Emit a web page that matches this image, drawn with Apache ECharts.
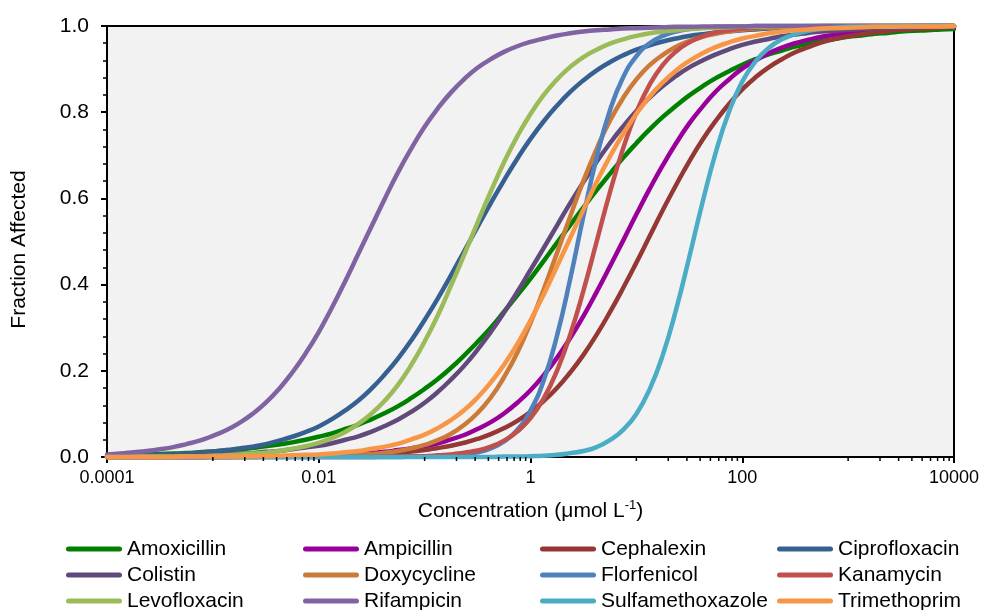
<!DOCTYPE html>
<html>
<head>
<meta charset="utf-8">
<script src="https://cdn.jsdelivr.net/npm/echarts@6/dist/echarts.min.js"></script>
<style>
  html, body { margin: 0; padding: 0; background: #fff; }
  #chart { width: 982px; height: 610px; }
</style>
</head>
<body>
<div id="chart"></div>
<script>
// Concentrations (µmol/L), eighth-decade steps from 1e-4 to 1e4
const concentrations = [
  0.0001, 0.0001334, 0.0001778, 0.0002371, 0.0003162, 0.0004217, 0.0005623, 0.0007499,
  0.001, 0.001334, 0.001778, 0.002371, 0.003162, 0.004217, 0.005623, 0.007499,
  0.01, 0.01334, 0.01778, 0.02371, 0.03162, 0.04217, 0.05623, 0.07499,
  0.1, 0.1334, 0.1778, 0.2371, 0.3162, 0.4217, 0.5623, 0.7499,
  1, 1.334, 1.778, 2.371, 3.162, 4.217, 5.623, 7.499,
  10, 13.34, 17.78, 23.71, 31.62, 42.17, 56.23, 74.99,
  100, 133.4, 177.8, 237.1, 316.2, 421.7, 562.3, 749.9,
  1000, 1334, 1778, 2371, 3162, 4217, 5623, 7499,
  10000
];

// Fraction affected for each antibiotic at the concentrations above
const amoxicillin = [
  0.003,0.004,0.005,0.006,0.007,0.008,0.009,0.011, 0.013,0.015,0.018,0.021,0.025,0.029,0.034,0.040,
  0.047,0.055,0.065,0.075,0.088,0.102,0.118,0.137, 0.158,0.181,0.207,0.236,0.267,0.300,0.337,0.375,
  0.414,0.455,0.497,0.538,0.579,0.619,0.657,0.694, 0.728,0.760,0.789,0.815,0.839,0.860,0.879,0.895,
  0.910,0.923,0.934,0.943,0.952,0.959,0.965,0.970, 0.975,0.978,0.982,0.984,0.987,0.989,0.990,0.992,
  0.993];
const ampicillin = [
  0,0,0,0,0,0,0,0, 0.001,0.001,0.001,0.001,0.001,0.002,0.002,0.003,
  0.004,0.005,0.006,0.008,0.010,0.012,0.016,0.020, 0.025,0.032,0.041,0.051,0.065,0.081,0.101,0.126,
  0.155,0.190,0.230,0.276,0.327,0.383,0.442,0.502, 0.563,0.622,0.677,0.728,0.774,0.813,0.848,0.876,
  0.901,0.920,0.937,0.950,0.960,0.968,0.975,0.980, 0.985,0.988,0.990,0.992,0.994,0.995,0.996,0.997,
  0.998];
const cephalexin = [
  0,0,0,0,0,0,0,0, 0,0,0.001,0.001,0.001,0.001,0.002,0.002,
  0.002,0.003,0.004,0.005,0.006,0.008,0.010,0.013, 0.016,0.021,0.026,0.033,0.042,0.053,0.067,0.084,
  0.105,0.130,0.160,0.196,0.237,0.284,0.336,0.392, 0.451,0.512,0.573,0.631,0.686,0.736,0.780,0.819,
  0.853,0.881,0.904,0.923,0.939,0.951,0.962,0.970, 0.976,0.981,0.985,0.988,0.991,0.993,0.994,0.996,
  0.997];
const ciprofloxacin = [
  0.002,0.003,0.003,0.004,0.005,0.006,0.008,0.010, 0.013,0.016,0.020,0.024,0.030,0.038,0.047,0.058,
  0.071,0.088,0.108,0.131,0.159,0.192,0.229,0.271, 0.318,0.368,0.422,0.478,0.534,0.589,0.642,0.692,
  0.738,0.779,0.815,0.847,0.874,0.897,0.916,0.932, 0.945,0.955,0.964,0.971,0.977,0.981,0.985,0.988,
  0.990,0.992,0.994,0.995,0.996,0.997,0.998,0.998, 0.998,0.999,0.999,0.999,0.999,1,1,1,
  1];
const colistin = [
  0.001,0.001,0.002,0.002,0.002,0.003,0.003,0.004, 0.005,0.006,0.008,0.009,0.012,0.014,0.018,0.022,
  0.026,0.032,0.040,0.048,0.059,0.072,0.087,0.105, 0.126,0.151,0.180,0.212,0.249,0.290,0.335,0.383,
  0.434,0.485,0.537,0.589,0.638,0.685,0.728,0.767, 0.803,0.834,0.861,0.884,0.904,0.920,0.934,0.946,
  0.956,0.964,0.970,0.976,0.980,0.984,0.987,0.989, 0.991,0.993,0.994,0.995,0.996,0.997,0.998,0.998,
  0.998];
const doxycycline = [
  0,0,0,0,0,0,0,0, 0,0,0,0,0.001,0.001,0.001,0.001,
  0.002,0.003,0.004,0.005,0.007,0.010,0.014,0.020, 0.028,0.039,0.054,0.075,0.102,0.138,0.185,0.242,
  0.311,0.389,0.473,0.558,0.641,0.715,0.780,0.833, 0.876,0.909,0.933,0.952,0.965,0.975,0.982,0.987,
  0.991,0.994,0.996,0.997,0.998,0.998,0.999,0.999, 0.999,1,1,1,1,1,1,1,
  1];
const florfenicol = [
  0,0,0,0,0,0,0,0, 0,0,0,0,0,0,0,0,
  0,0,0,0,0,0,0,0.001, 0.001,0.002,0.004,0.006,0.011,0.020,0.036,0.063,
  0.108,0.178,0.281,0.413,0.559,0.695,0.804,0.881, 0.930,0.960,0.977,0.987,0.993,0.996,0.998,0.999,
  0.999,1,1,1,1,1,1,1, 1,1,1,1,1,1,1,1,
  1];
const kanamycin = [
  0,0,0,0,0,0,0,0, 0,0,0,0,0,0,0,0,
  0,0,0,0,0,0.001,0.001,0.002, 0.002,0.004,0.006,0.010,0.015,0.024,0.038,0.059,
  0.090,0.136,0.200,0.284,0.386,0.500,0.614,0.716, 0.800,0.864,0.910,0.941,0.962,0.976,0.985,0.990,
  0.994,0.996,0.998,0.998,0.999,0.999,1,1, 1,1,1,1,1,1,1,1,
  1];
const levofloxacin = [
  0,0,0.001,0.001,0.001,0.001,0.002,0.002, 0.003,0.004,0.006,0.008,0.010,0.014,0.019,0.025,
  0.033,0.044,0.058,0.077,0.101,0.131,0.168,0.214, 0.268,0.329,0.398,0.470,0.544,0.616,0.684,0.744,
  0.796,0.840,0.876,0.905,0.928,0.945,0.959,0.969, 0.977,0.983,0.987,0.990,0.993,0.995,0.996,0.997,
  0.998,0.998,0.999,0.999,0.999,1,1,1, 1,1,1,1,1,1,1,1,
  1];
const rifampicin = [
  0.006,0.008,0.011,0.014,0.018,0.023,0.030,0.038, 0.049,0.062,0.079,0.100,0.126,0.158,0.196,0.240,
  0.290,0.347,0.408,0.472,0.536,0.600,0.661,0.716, 0.766,0.809,0.846,0.877,0.903,0.923,0.940,0.953,
  0.963,0.971,0.978,0.983,0.987,0.990,0.992,0.994, 0.995,0.996,0.997,0.998,0.998,0.999,0.999,0.999,
  0.999,1,1,1,1,1,1,1, 1,1,1,1,1,1,1,1,
  1];
const sulfamethoxazole = [
  0,0,0,0,0,0,0,0, 0,0,0,0,0,0,0,0,
  0,0,0,0,0,0,0,0, 0,0,0,0,0,0,0.001,0.001,
  0.002,0.003,0.005,0.009,0.014,0.023,0.039,0.063, 0.100,0.157,0.237,0.342,0.464,0.591,0.707,0.801,
  0.871,0.918,0.949,0.969,0.981,0.989,0.993,0.996, 0.998,0.999,0.999,1,1,1,1,1,
  1];
const trimethoprim = [
  0,0,0,0,0,0,0.001,0.001, 0.001,0.001,0.001,0.002,0.002,0.003,0.004,0.005,
  0.006,0.008,0.011,0.014,0.019,0.024,0.031,0.041, 0.052,0.067,0.086,0.109,0.138,0.173,0.214,0.262,
  0.317,0.377,0.442,0.508,0.574,0.638,0.697,0.750, 0.796,0.836,0.869,0.897,0.919,0.937,0.951,0.962,
  0.971,0.977,0.983,0.987,0.990,0.992,0.994,0.995, 0.996,0.997,0.998,0.998,0.999,0.999,0.999,0.999,
  1];

const drugNames = [
  'Amoxicillin', 'Ampicillin', 'Cephalexin', 'Ciprofloxacin',
  'Colistin', 'Doxycycline', 'Florfenicol', 'Kanamycin',
  'Levofloxacin', 'Rifampicin', 'Sulfamethoxazole', 'Trimethoprim'
];
const drugValues = [
  amoxicillin, ampicillin, cephalexin, ciprofloxacin,
  colistin, doxycycline, florfenicol, kanamycin,
  levofloxacin, rifampicin, sulfamethoxazole, trimethoprim
];
const drugColors = [
  '#008000', '#990099', '#953735', '#376092',
  '#604a7b', '#cc7a38', '#4f81bd', '#c0504d',
  '#9bbb59', '#8064a2', '#4bacc6', '#f79646'
];

// Axis tick labels
const xTickLabels = ['0.0001', '0.01', '1', '100', '10000'];
const yTickLabels = ['0.0', '0.2', '0.4', '0.6', '0.8', '1.0'];
// Minor tick positions on the concentration axis
const xMinorTicks = [
  0.001, 0.002, 0.003, 0.004, 0.005, 0.006, 0.007, 0.008, 0.009,
  0.1, 0.2, 0.3, 0.4, 0.5, 0.6, 0.7, 0.8, 0.9,
  10, 20, 30, 40, 50, 60, 70, 80, 90,
  1000, 2000, 3000, 4000, 5000, 6000, 7000, 8000, 9000
];

const FONT = '"Liberation Sans", Arial, Helvetica, sans-serif';

const lineSeries = drugNames.map((name, i) => ({
  name: name,
  type: 'line',
  data: concentrations.map((c, j) => [c, drugValues[i][j]]),
  smooth: true,
  showSymbol: false,
  clip: false,
  color: drugColors[i],
  lineStyle: { width: 4.5, color: drugColors[i], cap: 'round', join: 'round' },
  itemStyle: { color: drugColors[i] },
  z: 3
}));

const minorTickSeries = {
  type: 'custom',
  name: 'minorTicks',
  silent: true,
  clip: false,
  data: xMinorTicks.map(v => [v, 0]),
  encode: { x: 0, y: 1 },
  renderItem: function (params, api) {
    const p = api.coord([api.value(0), 0]);
    return {
      type: 'line',
      shape: { x1: p[0], y1: p[1], x2: p[0], y2: p[1] + 4 },
      style: { stroke: '#000', lineWidth: 1.5 }
    };
  },
  z: 4
};

// Legend laid out in four columns of three entries
const legendColumns = [0, 1, 2, 3].map(col => ({
  orient: 'vertical',
  left: 66 + col * 237,
  top: 538,
  width: 236,
  height: 100,
  padding: 0,
  itemGap: 4,
  itemWidth: 56,
  itemHeight: 5,
  icon: 'path://M2.5,0 H53.5 A2.5,2.5 0 0 1 53.5,5 H2.5 A2.5,2.5 0 0 1 2.5,0 Z',
  selectedMode: false,
  data: [drugNames[col], drugNames[col + 4], drugNames[col + 8]],
  textStyle: { fontFamily: FONT, fontSize: 21, color: '#000', lineHeight: 22 }
}));

const chart = echarts.init(document.getElementById('chart'), null, { renderer: 'canvas' });
chart.setOption({
  animation: false,
  backgroundColor: '#ffffff',
  textStyle: { fontFamily: FONT },
  grid: {
    left: 107, right: 28, top: 26, bottom: 153,
    show: true,
    backgroundColor: '#f2f2f2',
    borderColor: '#000',
    borderWidth: 2,
    containLabel: false,
    outerBoundsMode: 'none'
  },
  legend: legendColumns,
  xAxis: {
    type: 'log',
    logBase: 100,
    min: 0.0001,
    max: 10000,
    splitNumber: 4,
    name: 'Concentration (\u03bcmol L{sup|-1})',
    nameLocation: 'middle',
    nameGap: 42,
    nameTextStyle: {
      fontFamily: FONT, fontSize: 21, color: '#000', lineHeight: 24,
      rich: { sup: { fontFamily: FONT, fontSize: 13, color: '#000', verticalAlign: 'top', lineHeight: 24 } }
    },
    axisLine: { show: true, lineStyle: { color: '#000', width: 2 } },
    axisTick: { show: true, inside: false, length: 6, lineStyle: { color: '#000', width: 2 } },
    minorTick: { show: false },
    splitLine: { show: false },
    axisLabel: {
      margin: 12,
      fontFamily: FONT, fontSize: 18, color: '#000',
      formatter: function (value, index) { return xTickLabels[index] !== undefined ? xTickLabels[index] : ''; }
    }
  },
  yAxis: {
    type: 'value',
    min: 0,
    max: 1,
    interval: 0.2,
    name: 'Fraction Affected',
    nameLocation: 'middle',
    nameGap: 77,
    nameTextStyle: { fontFamily: FONT, fontSize: 21, color: '#000', padding: [0, 16, 0, 0] },
    axisLine: { show: true, lineStyle: { color: '#000', width: 2 } },
    axisTick: { show: true, inside: false, length: 6, lineStyle: { color: '#000', width: 2 } },
    minorTick: { show: true, splitNumber: 5, length: 4, lineStyle: { color: '#000', width: 1.5 } },
    splitLine: { show: false },
    minorSplitLine: { show: false },
    axisLabel: {
      margin: 18,
      fontFamily: FONT, fontSize: 21, color: '#000',
      formatter: function (value, index) { return yTickLabels[index] !== undefined ? yTickLabels[index] : ''; }
    }
  },
  series: lineSeries.concat([minorTickSeries])
});
</script>
</body>
</html>
